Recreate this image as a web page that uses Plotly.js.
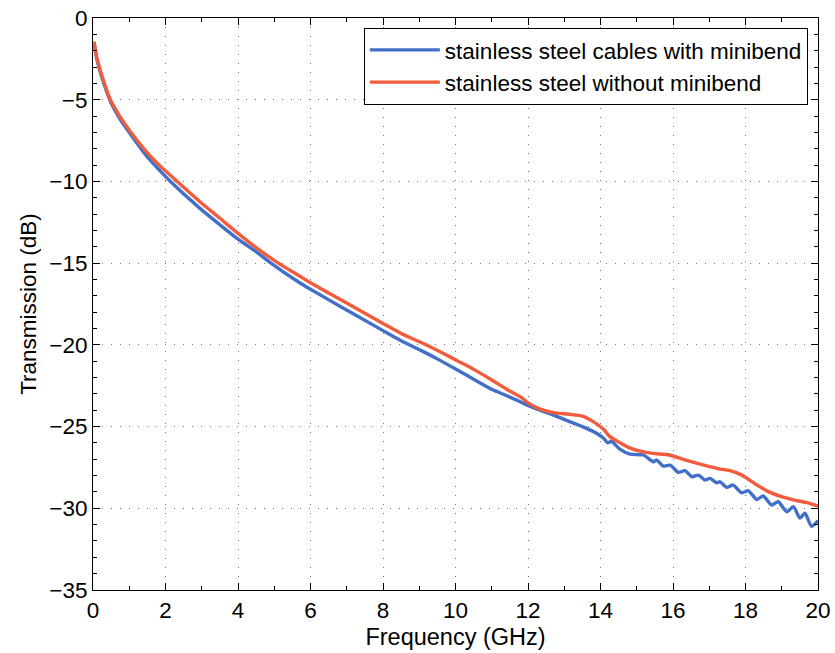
<!DOCTYPE html>
<html>
<head>
<meta charset="utf-8">
<script src="https://cdn.plot.ly/plotly-3.0.1.min.js"></script>
<style>html,body{margin:0;padding:0;background:#fff;}</style>
</head>
<body>
<div id="chart" style="width:835px;height:653px;"></div>
<script>
// Stainless steel cables with minibend (blue)
const freqWith = [0.03, 0.1, 0.2, 0.3, 0.4, 0.5, 0.75, 1.0, 1.5, 1.85, 2.08, 2.95, 3.5, 4.0, 4.5, 4.86, 5.7, 6.0, 6.8, 7.4, 8.0, 8.5, 9.1, 9.6, 10.1, 10.5, 11.0, 11.4, 11.8, 12.0, 12.33, 12.7, 13.15, 13.5, 13.8, 14.08, 14.2, 14.3, 14.54, 14.81, 15.18, 15.46, 15.55, 15.73, 15.92, 16.15, 16.33, 16.52, 16.7, 16.88, 17.02, 17.2, 17.3, 17.48, 17.66, 17.89, 18.08, 18.31, 18.49, 18.72, 18.9, 19.14, 19.32, 19.5, 19.64, 19.82, 20.0];
const transWith = [-1.5, -2.45, -3.3, -4.0, -4.65, -5.2, -6.2, -7.0, -8.5, -9.35, -9.88, -11.65, -12.65, -13.53, -14.3, -14.92, -16.2, -16.6, -17.62, -18.37, -19.13, -19.75, -20.4, -20.98, -21.6, -22.1, -22.72, -23.1, -23.5, -23.7, -24.0, -24.3, -24.7, -25.0, -25.3, -25.7, -26.0, -25.9, -26.4, -26.68, -26.74, -27.15, -27.05, -27.42, -27.36, -27.8, -27.7, -28.07, -27.97, -28.27, -28.17, -28.44, -28.38, -28.72, -28.58, -29.05, -28.93, -29.46, -29.25, -29.8, -29.6, -30.21, -29.9, -30.6, -30.3, -31.1, -30.76];

// Stainless steel without minibend (red)
const freqWithout = [0.03, 0.1, 0.2, 0.3, 0.4, 0.5, 0.75, 1.0, 1.5, 1.85, 2.3, 2.95, 3.5, 4.0, 4.5, 5.1, 5.7, 6.0, 6.8, 7.4, 8.0, 8.5, 9.1, 9.6, 10.1, 10.5, 11.0, 11.4, 11.8, 12.0, 12.3, 12.7, 13.15, 13.5, 13.8, 14.1, 14.25, 14.55, 14.8, 15.1, 15.45, 15.9, 16.4, 16.85, 17.3, 17.55, 17.9, 18.25, 18.6, 19.0, 19.35, 19.7, 20.0];
const transWithout = [-1.45, -2.37, -3.2, -3.9, -4.55, -5.1, -6.05, -6.85, -8.25, -9.05, -9.96, -11.24, -12.25, -13.18, -14.05, -14.98, -15.79, -16.2, -17.2, -17.95, -18.69, -19.3, -19.9, -20.45, -21.03, -21.5, -22.15, -22.7, -23.2, -23.55, -23.9, -24.15, -24.25, -24.36, -24.7, -25.2, -25.6, -26.0, -26.3, -26.5, -26.64, -26.74, -27.09, -27.36, -27.6, -27.68, -27.97, -28.48, -28.95, -29.29, -29.5, -29.66, -29.87];

const seriesNames = ['stainless steel cables with minibend', 'stainless steel without minibend'];

const traces = [
  {x: freqWith, y: transWith, name: seriesNames[0], type: 'scatter', mode: 'lines',
   line: {color: '#4270c8', width: 3.4, shape: 'spline', smoothing: 0.7}},
  {x: freqWithout, y: transWithout, name: seriesNames[1], type: 'scatter', mode: 'lines',
   line: {color: '#f25c3c', width: 3.4, shape: 'spline', smoothing: 0.7}}
];

const FONT = 'Liberation Sans, Arial, sans-serif';

const axisCommon = {
  showline: true, linecolor: '#000', linewidth: 1, mirror: 'allticks',
  ticks: 'inside', ticklen: 7, tickcolor: '#000', tickwidth: 1,
  showgrid: true, gridcolor: '#777', griddash: '1px,8px', gridwidth: 1,
  zeroline: false,
  tickfont: {family: FONT, size: 22.5, color: '#000'},
  minor: {ticks: 'inside', ticklen: 4, tickcolor: '#000', dtick: 1, showgrid: false}
};

const layout = {
  width: 835, height: 653,
  margin: {l: 93, r: 17, t: 18, b: 63},
  paper_bgcolor: '#fff', plot_bgcolor: '#fff',
  font: {family: FONT, size: 22.5, color: '#000'},
  xaxis: Object.assign({}, axisCommon, {
    range: [0, 20], dtick: 2, tick0: 0,
    title: {text: 'Frequency (GHz)', font: {size: 23.5}, standoff: 6}
  }),
  yaxis: Object.assign({}, axisCommon, {
    range: [-35, 0], dtick: 5, tick0: 0,
    title: {text: 'Transmission (dB)', font: {size: 22.5}, standoff: 6}
  }),
  showlegend: true,
  legend: {
    x: 0.986, y: 0.983, xanchor: 'right', yanchor: 'top',
    bgcolor: '#fff', bordercolor: '#000', borderwidth: 1,
    font: {size: 22.5}, tracegroupgap: 0, itemwidth: 70
  }
};

Plotly.newPlot('chart', traces, layout, {staticPlot: true, displayModeBar: false});
</script>
</body>
</html>
